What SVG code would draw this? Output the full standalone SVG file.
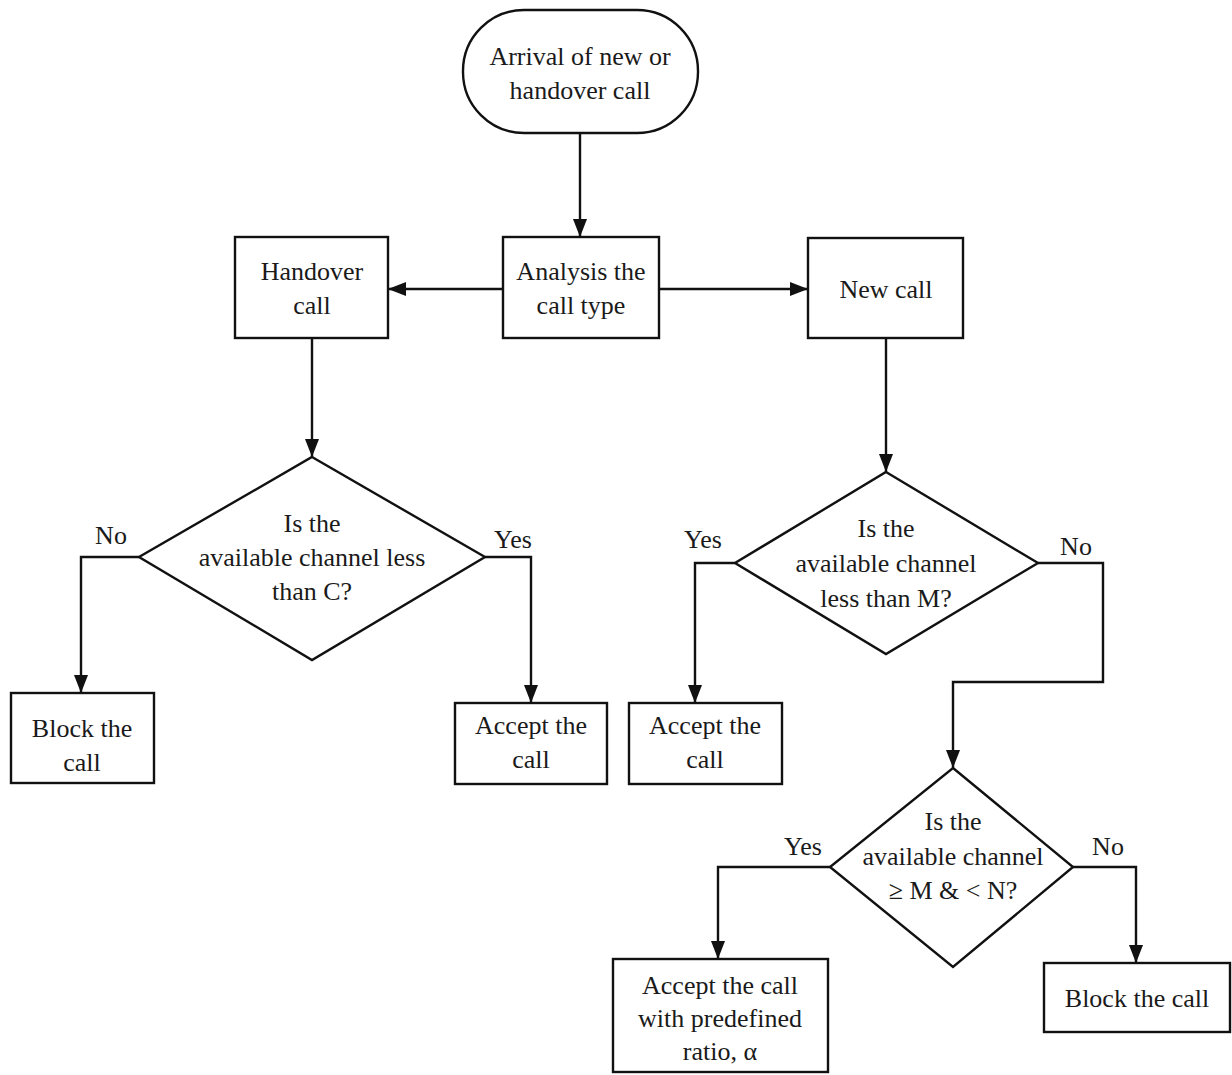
<svg xmlns="http://www.w3.org/2000/svg" width="1232" height="1075" viewBox="0 0 1232 1075">
<defs>
<marker id="arr" markerWidth="18" markerHeight="14" refX="18" refY="7" orient="auto" markerUnits="userSpaceOnUse" viewBox="0 0 18 14">
<path d="M0,0 L18,7 L0,14 Z" fill="#111"/>
</marker>
<style>
.s{fill:#fff;stroke:#111;stroke-width:2.4}
.t{font-family:"Liberation Serif","Times New Roman",serif;font-size:26px;fill:#1a1a1a;text-anchor:middle}
.c{fill:none;stroke:#111;stroke-width:2.4}
</style>
</defs>
<rect width="1232" height="1075" fill="#fff"/>
<g id="connectors">
<path class="c" d="M580,133 V237" marker-end="url(#arr)"/>
<path class="c" d="M503,289 H388" marker-end="url(#arr)"/>
<path class="c" d="M659,289 H808" marker-end="url(#arr)"/>
<path class="c" d="M312,338 V457" marker-end="url(#arr)"/>
<path class="c" d="M139,557 H81 V693" marker-end="url(#arr)"/>
<path class="c" d="M485,557 H531 V703" marker-end="url(#arr)"/>
<path class="c" d="M886,338 V472" marker-end="url(#arr)"/>
<path class="c" d="M735,563 H695 V703" marker-end="url(#arr)"/>
<path class="c" d="M1038,563 H1103 V682 H953 V768" marker-end="url(#arr)"/>
<path class="c" d="M830,867 H718 V959" marker-end="url(#arr)"/>
<path class="c" d="M1073,867 H1136 V963" marker-end="url(#arr)"/>
</g>
<g id="start">
<rect class="s" x="463" y="10" width="235" height="123" rx="61" ry="61"/>
<text class="t" x="580" y="65">Arrival of new or</text>
<text class="t" x="580" y="99">handover call</text>
</g>
<g id="analysis">
<rect class="s" x="503" y="237" width="156" height="101"/>
<text class="t" x="581" y="280">Analysis the</text>
<text class="t" x="581" y="314">call type</text>
</g>
<g id="handover">
<rect class="s" x="235" y="237" width="153" height="101"/>
<text class="t" x="312" y="280">Handover</text>
<text class="t" x="312" y="314">call</text>
</g>
<g id="newcall">
<rect class="s" x="808" y="238" width="155" height="100"/>
<text class="t" x="886" y="298">New call</text>
</g>
<g id="decision1">
<polygon class="s" points="312,457 485,557 312,660 139,557"/>
<text class="t" x="312" y="532">Is the</text>
<text class="t" x="312" y="566">available channel less</text>
<text class="t" x="312" y="600">than C?</text>
<text class="t" x="111" y="544">No</text>
<text class="t" x="513" y="548">Yes</text>
</g>
<g id="block1">
<rect class="s" x="11" y="693" width="143" height="90"/>
<text class="t" x="82" y="737">Block the</text>
<text class="t" x="82" y="771">call</text>
</g>
<g id="accept1">
<rect class="s" x="455" y="703" width="152" height="81"/>
<text class="t" x="531" y="734">Accept the</text>
<text class="t" x="531" y="768">call</text>
</g>
<g id="decision2">
<polygon class="s" points="886,472 1038,563 886,654 735,563"/>
<text class="t" x="886" y="537">Is the</text>
<text class="t" x="886" y="572">available channel</text>
<text class="t" x="886" y="607">less than M?</text>
<text class="t" x="703" y="548">Yes</text>
<text class="t" x="1076" y="555">No</text>
</g>
<g id="accept2">
<rect class="s" x="629" y="703" width="153" height="81"/>
<text class="t" x="705" y="734">Accept the</text>
<text class="t" x="705" y="768">call</text>
</g>
<g id="decision3">
<polygon class="s" points="953,768 1073,867 953,967 830,867"/>
<text class="t" x="953" y="830">Is the</text>
<text class="t" x="953" y="865">available channel</text>
<text class="t" x="953" y="899">≥ M &amp; &lt; N?</text>
<text class="t" x="803" y="855">Yes</text>
<text class="t" x="1108" y="855">No</text>
</g>
<g id="accept3">
<rect class="s" x="613" y="959" width="215" height="113"/>
<text class="t" x="720" y="994">Accept the call</text>
<text class="t" x="720" y="1027">with predefined</text>
<text class="t" x="720" y="1060">ratio, α</text>
</g>
<g id="block3">
<rect class="s" x="1044" y="963" width="186" height="69"/>
<text class="t" x="1137" y="1007">Block the call</text>
</g>
</svg>
